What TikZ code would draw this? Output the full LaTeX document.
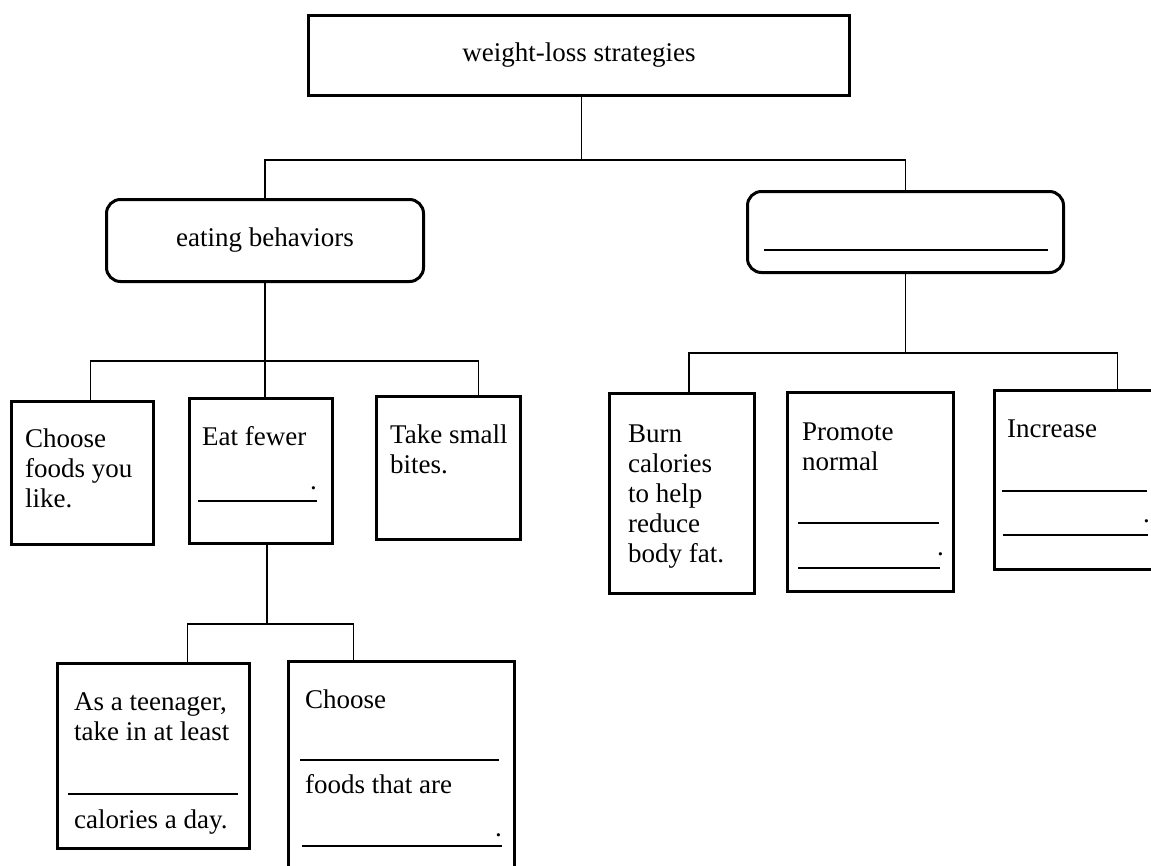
\documentclass[tikz,border=0pt]{standalone}
\usepackage{fontspec}
\setmainfont{Liberation Serif}
\begin{document}
\begin{tikzpicture}[x=1pt,y=-1pt,
  box/.style={draw, line width=3pt, inner sep=0pt, anchor=north west, font=\fontsize{27}{30}\selectfont},
  rbox/.style={box, rounded corners=14pt},
  conn/.style={line width=1.5pt},
  blank/.style={line width=1.7pt},
  txt/.style={anchor=base west, inner sep=0pt, font=\fontsize{27}{30}\selectfont}]
\clip (0,0) rectangle (1151,865);
% level 0
\node[box, minimum width=541pt, minimum height=80pt] (top) at (307,14) {weight-loss strategies};
% level 1
\node[rbox, minimum width=317pt, minimum height=82pt] (eat) at (105,198) {eating behaviors};
\node[rbox, minimum width=316pt, minimum height=81pt] (goal) at (746,190) {};
\draw[blank] (764,250) -- (1048,250);
% level 2 left
\node[box, minimum width=142pt, minimum height=143pt] (choose) at (10,400) {};
\node[txt] (chooseT) at (25,447) {\parbox[t]{130pt}{\raggedright Choose\\foods you\\like.}};
\node[box, minimum width=143pt, minimum height=145pt] (fewer) at (188,397) {};
\node[txt] (fewerT) at (202,445) {Eat fewer};
\draw[blank] (198,501) -- (317,501);
\node[txt] (fewerD) at (310,489) {.};
\node[box, minimum width=144pt, minimum height=143pt] (bites) at (375,395) {};
\node[txt] (bitesT) at (390,443) {\parbox[t]{130pt}{\raggedright Take small\\bites.}};
% level 2 right
\node[box, minimum width=145pt, minimum height=200pt] (burn) at (608,392) {};
\node[txt] (burnT) at (628,442) {\parbox[t]{120pt}{\raggedright Burn\\calories\\to help\\reduce\\body fat.}};
\node[box, minimum width=166pt, minimum height=199pt] (promote) at (786,391) {};
\node[txt] (promoteT) at (802,440) {\parbox[t]{140pt}{\raggedright Promote\\normal}};
\draw[blank] (798,523) -- (939,523);
\draw[blank] (798,568) -- (940,568);
\node[txt] (promoteD) at (937,555) {.};
\node[box, minimum width=167pt, minimum height=179pt] (increase) at (993,389) {};
\node[txt] (increaseT) at (1007,437) {Increase};
\draw[blank] (1002,491) -- (1147,491);
\draw[blank] (1003,535) -- (1148,535);
\node[txt] (increaseD) at (1143,522) {.};
% level 3
\node[box, minimum width=192pt, minimum height=185pt] (teen) at (56,662) {};
\node[txt] (teenT) at (74,710) {\parbox[t]{170pt}{\raggedright As a teenager,\\take in at least\\[58pt]calories a day.}};
\draw[blank] (68,794) -- (238,794);
\node[box, minimum width=226pt, minimum height=225pt] (choose2) at (287,660) {};
\node[txt] (choose2T) at (305,708) {\parbox[t]{200pt}{\raggedright Choose\\[55pt]foods that are}};
\draw[blank] (300,760) -- (499,760);
\draw[blank] (302,846) -- (502,846);
\node[txt] (choose2D) at (495,836) {.};
% junction levels
\coordinate (y1) at (0,160);
\coordinate (y2) at (0,361);
\coordinate (y3) at (0,353);
\coordinate (y4) at (0,624);
% connectors level 0 -> 1
\coordinate (topB) at ([xshift=2.5pt]top.south);
\draw[conn] (topB) -- (topB |- y1);
\draw[conn] (eat.north) -- (eat.north |- y1) -- (goal.north |- y1) -- (goal.north);
% eating behaviors -> children
\coordinate (chooseTop) at ([xshift=8pt]choose.north);
\coordinate (bitesTop) at ([xshift=30pt]bites.north);
\draw[conn] (eat.south) -- (eat.south |- fewer.north);
\draw[conn] (chooseTop) -- (chooseTop |- y2) -- (bitesTop |- y2) -- (bitesTop);
% goal -> children
\coordinate (burnTop) at ([xshift=7pt]burn.north);
\coordinate (incTop) at ([xshift=39.5pt]increase.north);
\draw[conn] (goal.south) -- (goal.south |- y3);
\draw[conn] (burnTop) -- (burnTop |- y3) -- (incTop |- y3) -- (incTop);
% eat fewer -> children
\coordinate (fewerBot) at ([xshift=6pt]fewer.south);
\coordinate (teenTop) at ([xshift=34pt]teen.north);
\coordinate (ch2Top) at ([xshift=-48pt]choose2.north);
\draw[conn] (fewerBot) -- (fewerBot |- y4);
\draw[conn] (teenTop) -- (teenTop |- y4) -- (ch2Top |- y4) -- (ch2Top);
\end{tikzpicture}
\end{document}
